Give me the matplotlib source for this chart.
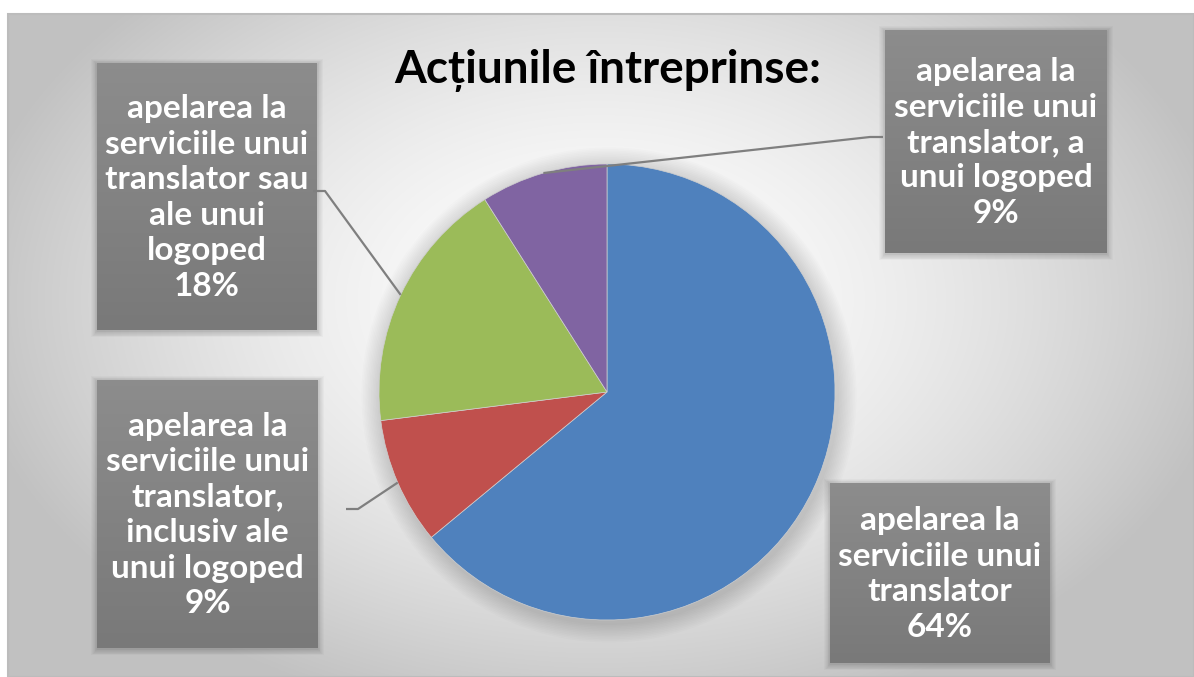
import numpy as np
import matplotlib.pyplot as plt
from matplotlib.patches import Rectangle, Circle

W, H = 1194, 677

title = "Acțiunile întreprinse:"
labels = [
    "apelarea la\nserviciile unui\ntranslator",
    "apelarea la\nserviciile unui\ntranslator,\ninclusiv ale\nunui logoped",
    "apelarea la\nserviciile unui\ntranslator sau\nale unui\nlogoped",
    "apelarea la\nserviciile unui\ntranslator, a\nunui logoped",
]
values = [64, 9, 18, 9]
colors = ["#4f81bd", "#c0504d", "#9bbb59", "#8064a2"]

# label boxes in pixel coords (x0, y0_top, x1, y1_bottom), y measured from top
boxes = [(830, 483, 1050, 663), (97, 380, 318, 648), (97, 63, 317, 330), (885, 30, 1107, 253)]
# leader elbows (pixel coords from top): start at box, elbow, then to wedge edge
leaders = {1: [(346, 509), (358, 509)], 2: [(313, 191), (325, 191)], 3: [(883, 137), (870, 137)]}

cx, cy, R = 607, H - 392, 228

fig = plt.figure(figsize=(W / 100, H / 100), dpi=100)
ax = fig.add_axes([0, 0, 1, 1])

# chart background: radial gradient inside the frame
fx0, fy0 = 8, 14
xx, yy = np.meshgrid(np.linspace(fx0, W, 300), np.linspace(fy0, H, 200))
d = np.sqrt(((xx - 600) / 640) ** 2 + ((yy - 300) / 430) ** 2)
g = 1 - 0.24 * np.clip(d, 0, 1) ** 1.6
ax.imshow(np.dstack([g, g, g]), extent=(fx0, W, 0, H - fy0), origin="upper",
          aspect="auto", zorder=0, interpolation="bilinear")
ax.add_patch(Rectangle((fx0, 0), W - fx0, H - fy0, fill=False, edgecolor="#bcbcbc", lw=1.5, zorder=1))

# soft shadow behind the pie
for i in range(12):
    ax.add_patch(Circle((cx + 2, cy - 3), R + 2 + i * 1.6, color="black", alpha=0.012, lw=0, zorder=1))

wedges, _ = ax.pie(values, colors=colors, startangle=90, counterclock=False,
                   center=(cx, cy), radius=R, frame=True,
                   wedgeprops=dict(linewidth=0.5, edgecolor="#cfcfcf"))
for w in wedges:
    w.set_zorder(3)

font = ["Lato", "DejaVu Sans"]

ax.text(608, H - 70, title, ha="center", va="center", fontsize=33, fontweight="bold",
        family=font, color="black", zorder=5)

for i, (lab, v) in enumerate(zip(labels, values)):
    x0, yt, x1, yb = boxes[i]
    # soft box shadow
    for k in range(8):
        ax.add_patch(Rectangle((x0 - k * 0.8, H - yb - 1.5 - k * 0.8), x1 - x0 + 1.6 * k, yb - yt + 1.6 * k,
                               color="black", alpha=0.025, lw=0, zorder=3))
    ax.add_patch(Rectangle((x0, H - yb), x1 - x0, yb - yt, color="#848484", lw=0, zorder=3.9))
    grad = np.linspace(0.55, 0.475, 50)[:, None]
    ax.imshow(np.dstack([grad, grad, grad]), extent=(x0, x1, H - yb, H - yt), origin="upper",
              aspect="auto", zorder=4, interpolation="bilinear")
    ax.text((x0 + x1) / 2, H - (yt + yb) / 2 - 1, f"{lab}\n{v}%", ha="center", va="center",
            fontsize=24, fontweight="bold", family=font, color="white", linespacing=1.27, zorder=5)

# leader lines to wedge edges
for i, pts in leaders.items():
    w = wedges[i]
    mid = np.deg2rad((w.theta1 + w.theta2) / 2)
    ex, ey = cx + R * np.cos(mid), cy + R * np.sin(mid)
    xs = [p[0] for p in pts] + [ex]
    ys = [H - p[1] for p in pts] + [ey]
    ax.plot(xs, ys, color="#7f7f7f", lw=1.6, zorder=4.5, solid_capstyle="butt")

ax.set_xlim(0, W)
ax.set_ylim(0, H)
ax.axis("off")
fig.savefig("out.png", dpi=100, facecolor="white")
